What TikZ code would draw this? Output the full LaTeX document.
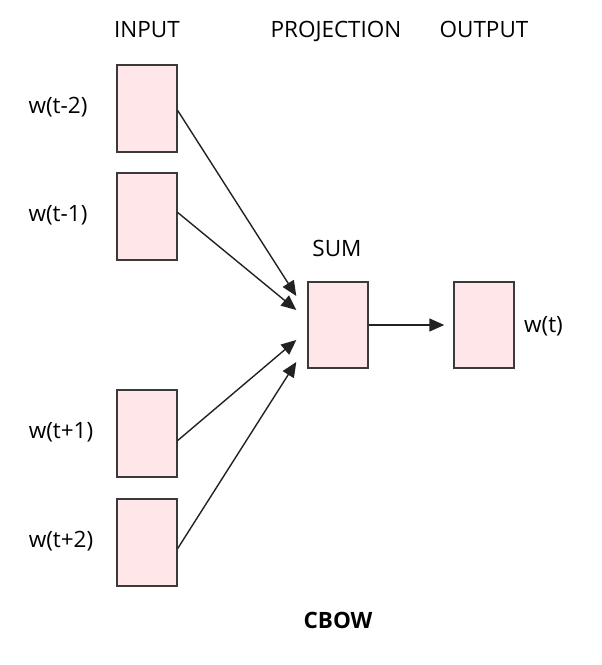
\documentclass[tikz,border=0pt]{standalone}
\usepackage{fontspec}
\setmainfont{Open Sans}
\usetikzlibrary{arrows.meta,calc}
\definecolor{boxfill}{HTML}{FFE6E8}
\definecolor{boxline}{HTML}{3A3A3A}
\definecolor{arrowc}{HTML}{222222}
\begin{document}
\begin{tikzpicture}[x=1pt,y=1pt,
  vbox/.style={draw=boxline,line width=1.4pt,fill=boxfill,minimum width=60pt,minimum height=87pt,inner sep=0pt},
  lbl/.style={font=\fontsize{22.5}{26}\selectfont,text=black,inner sep=0pt,anchor=base},
  conn/.style={draw=arrowc,line width=1.4pt,-{Triangle[length=15pt,width=13pt]}}]
\useasboundingbox (0,0) rectangle (602,665);
\node[vbox] (b1) at (147,556.5) {};
\node[vbox] (b2) at (147,448.5) {};
\node[vbox] (b3) at (147,231.5) {};
\node[vbox] (b4) at (147,122.5) {};
\node[vbox,minimum height=86pt] (sum) at (338,340) {};
\node[vbox,minimum height=86pt] (out) at (484,340) {};
\node[lbl] (tin) at (147,627) {INPUT};
\node[lbl] (tproj) at (336,627) {PROJECTION};
\node[lbl] (tout) at (484,627) {OUTPUT};
\node[lbl] (tsum) at (337,408) {SUM};
\node[lbl] (l1) at (58,551) {w(t-2)};
\node[lbl] (l2) at (58,443) {w(t-1)};
\node[lbl] (l3) at (61,226) {w(t+1)};
\node[lbl] (l4) at (61,117) {w(t+2)};
\node[lbl] (lw) at (543.5,332) {w(t)};
\node[lbl,font=\fontsize{22.5}{26}\selectfont\bfseries] (cbow) at (338,37) {CBOW};
\coordinate (e1) at ($(sum.west)+(-11,29)$);
\coordinate (e2) at ($(sum.west)+(-11,15)$);
\coordinate (e3) at ($(sum.west)+(-11,-15)$);
\coordinate (e4) at ($(sum.west)+(-11,-37)$);
\coordinate (eo) at ($(out.west)+(-9,0)$);
\draw[conn] ($(b1.east)+(0,-2)$) -- (e1);
\draw[conn] ($(b2.east)+(0,4)$) -- (e2);
\draw[conn] ($(b3.east)+(0,-7)$) -- (e3);
\draw[conn] ($(b4.east)+(0,-6)$) -- (e4);
\draw[conn] (sum.east) -- (eo);
\end{tikzpicture}
\end{document}
